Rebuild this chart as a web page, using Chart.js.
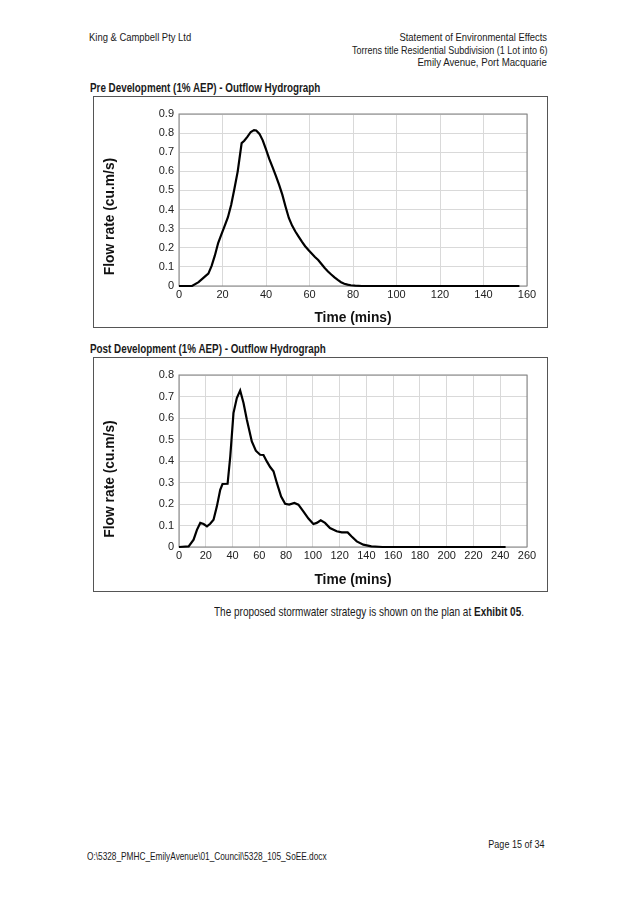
<!DOCTYPE html>
<html>
<head>
<meta charset="utf-8">
<script src="https://cdn.jsdelivr.net/npm/chart.js@4.4.0/dist/chart.umd.min.js"></script>
<style>
body { margin: 0; background: #fff; }
#page { position: relative; width: 636px; height: 907px; font-family: "Liberation Sans", Arial, sans-serif; color: #1a1a1a; }
/* no narrow font installed, so squeeze Liberation Sans like Arial Narrow */
.t { position: absolute; white-space: nowrap; line-height: 1; font-size: 11.5px; transform: scaleX(0.82); transform-origin: left center; }
.r { right: 89px; transform-origin: right center; }
.b { font-weight: bold; }
.box { position: absolute; left: 93px; width: 455px; border: 1px solid #555; box-sizing: border-box; }
.box div { position: relative; width: 453px; }
</style>
</head>
<body>
<div id="page">
  <div class="t" style="left:89px; top:32px;">King &amp; Campbell Pty Ltd</div>
  <div class="t r" style="top:32px;">Statement of Environmental Effects</div>
  <div class="t r" style="top:44.5px; font-size:11px;">Torrens title Residential Subdivision (1 Lot into 6)</div>
  <div class="t r" style="top:57px; font-size:11.8px;">Emily Avenue, Port Macquarie</div>

  <div class="t b" style="left:90px; top:82px; font-size:12px;">Pre Development (1% AEP) - Outflow Hydrograph</div>
  <div class="box" style="top:96px; height:232px;"><div style="height:230px;"><canvas id="pre"></canvas></div></div>

  <div class="t b" style="left:90px; top:343px; font-size:12px;">Post Development (1% AEP) - Outflow Hydrograph</div>
  <div class="box" style="top:357px; height:235px;"><div style="height:233px;"><canvas id="post"></canvas></div></div>

  <div class="t" style="left:214px; top:605.5px; font-size:12.2px;">The proposed stormwater strategy is shown on the plan at <b>Exhibit 05</b>.</div>

  <div class="t r" style="top:838.5px; font-size:11px; right:91px;">Page 15 of 34</div>
  <div class="t" style="left:87px; top:852px; font-size:10.1px;">O:\5328_PMHC_EmilyAvenue\01_Council\5328_105_SoEE.docx</div>
</div>
<script>
// Pre development hydrograph (time in mins, flow in cu.m/s)
const preTime = [0, 6, 9, 12, 13.5, 15, 16.5, 18, 19.5, 21, 22.5, 24, 25.5, 27, 28.8, 30, 31.5, 33, 34.5, 35.5, 37, 38.5, 40, 41.5, 43, 44.5, 46, 47.5, 49, 50.5, 52, 53.5, 55, 56.5, 58, 59.5, 61, 62.5, 64, 65.5, 67, 68.5, 70, 71.5, 73, 74.5, 76, 77.5, 79, 81, 84, 156.5];
const preFlow = [0, 0, 0.02, 0.05, 0.065, 0.105, 0.16, 0.225, 0.27, 0.315, 0.36, 0.425, 0.51, 0.6, 0.748, 0.76, 0.782, 0.806, 0.816, 0.814, 0.796, 0.762, 0.715, 0.665, 0.622, 0.578, 0.53, 0.478, 0.415, 0.356, 0.316, 0.285, 0.258, 0.232, 0.208, 0.188, 0.17, 0.152, 0.136, 0.115, 0.094, 0.076, 0.06, 0.045, 0.032, 0.02, 0.012, 0.007, 0.004, 0.002, 0, 0];

// Post development hydrograph
const postTime = [0, 7.2, 10.9, 13.4, 15.9, 18.4, 20.9, 23.3, 25.8, 28.3, 30.8, 32.5, 36.3, 38.3, 40.7, 43.2, 45.7, 48.2, 50.7, 54.4, 57.4, 60.6, 63.1, 65.6, 68.1, 70.6, 73.1, 76.3, 79.3, 82.3, 86.2, 89.2, 92.9, 96.7, 100.4, 102.9, 105.9, 109.1, 112.8, 117.8, 121.6, 126, 129, 132.8, 137.7, 143.7, 152, 244];
const postFlow = [0, 0.003, 0.034, 0.08, 0.112, 0.107, 0.096, 0.108, 0.127, 0.189, 0.266, 0.293, 0.294, 0.421, 0.623, 0.693, 0.728, 0.67, 0.592, 0.491, 0.448, 0.429, 0.428, 0.398, 0.372, 0.352, 0.298, 0.235, 0.201, 0.197, 0.205, 0.197, 0.166, 0.132, 0.107, 0.112, 0.124, 0.112, 0.088, 0.073, 0.068, 0.068, 0.049, 0.026, 0.011, 0.003, 0, 0];

// axis ranges
const preXMax = 160, preYMax = 0.9;
const postXMax = 260, postYMax = 0.8;
const xStep = 20, yStep = 0.1;

const xTitle = 'Time (mins)';
const yTitle = 'Flow rate (cu.m/s)';

const chartFont = '"Liberation Sans", Arial, sans-serif';

// grey frame round the plot area
const frame = {
  id: 'frame',
  beforeDatasetsDraw(chart) {
    const {ctx, chartArea: a} = chart;
    ctx.save();
    ctx.strokeStyle = '#808080';
    ctx.lineWidth = 1;
    ctx.strokeRect(a.left, a.top, a.right - a.left, a.bottom - a.top);
    ctx.restore();
  }
};

// y title sits a little under the plot centre, like the excel original
const yTitlePlugin = {
  id: 'yTitle',
  afterDraw(chart) {
    const ctx = chart.ctx;
    ctx.save();
    ctx.translate(16, chart.height / 2 + 4.5);
    ctx.rotate(-Math.PI / 2);
    ctx.font = 'bold 13.8px ' + chartFont;
    ctx.fillStyle = '#111';
    ctx.textAlign = 'center';
    ctx.textBaseline = 'middle';
    ctx.fillText(yTitle, 0, 0);
    ctx.restore();
  }
};

function hydrograph(id, xs, ys, xMax, yMax, xAxisH, titlePad) {
  const pts = xs.map((x, i) => ({x: x, y: ys[i]}));
  return new Chart(document.getElementById(id), {
    type: 'line',
    data: {
      datasets: [{
        data: pts,
        borderColor: '#000',
        borderWidth: 2.2,
        pointRadius: 0,
        tension: 0,
        fill: false,
        clip: false
      }]
    },
    options: {
      responsive: true,
      maintainAspectRatio: false,
      animation: false,
      layout: {padding: {top: 17, right: 20, bottom: 0, left: 0}},
      plugins: {legend: {display: false}, tooltip: {enabled: false}},
      scales: {
        x: {
          type: 'linear',
          min: 0,
          max: xMax,
          ticks: {stepSize: xStep, padding: 2, color: '#222', font: {family: chartFont, size: 11}, maxRotation: 0},
          grid: {color: '#d9d9d9', drawTicks: false},
          border: {display: false},
          title: {display: true, text: xTitle, color: '#111', font: {family: chartFont, size: 13.8, weight: 'bold'}, padding: {top: 0, bottom: titlePad}},
          afterFit(s) { s.height = xAxisH; }
        },
        y: {
          min: 0,
          max: yMax,
          ticks: {stepSize: yStep, padding: 5, color: '#222', font: {family: chartFont, size: 11},
            callback: v => v === 0 ? '0' : v.toFixed(1)},
          grid: {color: '#d9d9d9', drawTicks: false},
          border: {display: false},
          afterFit(s) { s.width = 85; }
        }
      }
    },
    plugins: [frame, yTitlePlugin]
  });
}

hydrograph('pre', preTime, preFlow, preXMax, preYMax, 41, 1);
hydrograph('post', postTime, postFlow, postXMax, postYMax, 44, 3);
</script>
</body>
</html>
